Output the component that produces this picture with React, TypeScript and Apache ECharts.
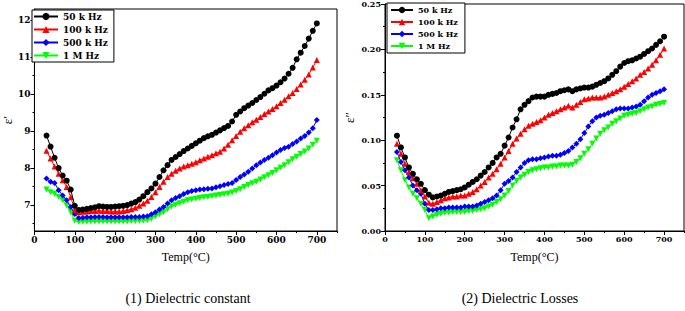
import { useEffect, useRef } from "react";
import * as echarts from "echarts";

const temps = [30, 40, 50, 60, 70, 80, 90, 100, 110, 120, 130, 140, 150, 160, 170, 180, 190, 200, 210, 220, 230, 240, 250, 260, 270, 280, 290, 300, 310, 320, 330, 340, 350, 360, 370, 380, 390, 400, 410, 420, 430, 440, 450, 460, 470, 480, 490, 500, 510, 520, 530, 540, 550, 560, 570, 580, 590, 600, 610, 620, 630, 640, 650, 660, 670, 680, 690, 700];

// Dielectric constant ε'
const epsR50k = [8.88, 8.58, 8.28, 8.0, 7.8, 7.66, 7.42, 6.98, 6.87, 6.88, 6.9, 6.92, 6.94, 6.97, 6.96, 6.95, 6.95, 6.96, 6.97, 6.98, 7.0, 7.04, 7.08, 7.15, 7.24, 7.35, 7.45, 7.58, 7.76, 7.94, 8.08, 8.22, 8.3, 8.38, 8.46, 8.53, 8.6, 8.67, 8.74, 8.81, 8.86, 8.9, 8.96, 9.02, 9.08, 9.14, 9.26, 9.44, 9.53, 9.62, 9.69, 9.76, 9.84, 9.92, 10.01, 10.1, 10.16, 10.23, 10.32, 10.42, 10.55, 10.71, 10.94, 11.12, 11.3, 11.5, 11.71, 11.91];
const epsR100k = [8.47, 8.26, 8.04, 7.85, 7.67, 7.49, 7.22, 6.87, 6.81, 6.82, 6.83, 6.84, 6.84, 6.85, 6.84, 6.84, 6.83, 6.83, 6.83, 6.84, 6.86, 6.89, 6.93, 6.98, 7.04, 7.12, 7.22, 7.35, 7.49, 7.63, 7.76, 7.85, 7.93, 7.99, 8.04, 8.08, 8.12, 8.16, 8.21, 8.26, 8.31, 8.35, 8.4, 8.44, 8.53, 8.63, 8.75, 8.87, 8.98, 9.08, 9.16, 9.24, 9.31, 9.38, 9.46, 9.53, 9.6, 9.67, 9.76, 9.85, 9.94, 10.03, 10.14, 10.26, 10.39, 10.53, 10.72, 10.92];
const epsR500k = [7.72, 7.63, 7.6, 7.4, 7.26, 7.13, 6.95, 6.76, 6.65, 6.66, 6.67, 6.67, 6.68, 6.68, 6.68, 6.67, 6.67, 6.67, 6.67, 6.67, 6.67, 6.68, 6.68, 6.68, 6.69, 6.7, 6.75, 6.81, 6.88, 6.95, 7.04, 7.13, 7.19, 7.24, 7.3, 7.35, 7.38, 7.4, 7.42, 7.43, 7.44, 7.45, 7.48, 7.51, 7.54, 7.57, 7.6, 7.68, 7.76, 7.83, 7.9, 7.99, 8.08, 8.15, 8.22, 8.28, 8.35, 8.42, 8.49, 8.54, 8.58, 8.65, 8.72, 8.8, 8.87, 8.96, 9.08, 9.3];
const epsR1M = [7.42, 7.35, 7.31, 7.22, 7.13, 6.99, 6.81, 6.58, 6.54, 6.55, 6.55, 6.56, 6.56, 6.56, 6.56, 6.56, 6.56, 6.56, 6.56, 6.56, 6.56, 6.57, 6.57, 6.57, 6.58, 6.59, 6.63, 6.69, 6.75, 6.81, 6.89, 6.96, 7.01, 7.05, 7.09, 7.13, 7.15, 7.17, 7.19, 7.21, 7.22, 7.24, 7.26, 7.27, 7.29, 7.31, 7.34, 7.38, 7.43, 7.49, 7.54, 7.59, 7.63, 7.69, 7.75, 7.81, 7.87, 7.94, 8.01, 8.08, 8.16, 8.24, 8.31, 8.38, 8.45, 8.53, 8.63, 8.74];

// Dielectric losses ε''
const epsI50k = [0.105, 0.092, 0.081, 0.07, 0.063, 0.057, 0.052, 0.045, 0.04, 0.037, 0.038, 0.039, 0.041, 0.043, 0.044, 0.045, 0.046, 0.048, 0.051, 0.054, 0.057, 0.061, 0.065, 0.07, 0.075, 0.081, 0.085, 0.094, 0.103, 0.114, 0.123, 0.134, 0.139, 0.143, 0.147, 0.148, 0.148, 0.148, 0.15, 0.151, 0.152, 0.154, 0.155, 0.156, 0.154, 0.156, 0.157, 0.158, 0.158, 0.159, 0.161, 0.163, 0.165, 0.168, 0.172, 0.176, 0.181, 0.185, 0.187, 0.188, 0.19, 0.192, 0.195, 0.198, 0.201, 0.205, 0.209, 0.214];
const epsI100k = [0.096, 0.085, 0.074, 0.065, 0.058, 0.052, 0.045, 0.038, 0.031, 0.03, 0.032, 0.034, 0.036, 0.037, 0.038, 0.038, 0.039, 0.039, 0.041, 0.043, 0.046, 0.05, 0.054, 0.059, 0.063, 0.068, 0.074, 0.081, 0.088, 0.096, 0.102, 0.107, 0.112, 0.116, 0.118, 0.12, 0.122, 0.125, 0.128, 0.13, 0.132, 0.134, 0.136, 0.138, 0.136, 0.139, 0.142, 0.145, 0.146, 0.147, 0.147, 0.147, 0.148, 0.15, 0.152, 0.154, 0.156, 0.159, 0.162, 0.165, 0.168, 0.172, 0.175, 0.179, 0.183, 0.188, 0.194, 0.201];
const epsI500k = [0.087, 0.076, 0.067, 0.059, 0.05, 0.045, 0.041, 0.03, 0.023, 0.023, 0.024, 0.025, 0.025, 0.026, 0.026, 0.026, 0.026, 0.027, 0.027, 0.027, 0.028, 0.03, 0.032, 0.034, 0.036, 0.039, 0.045, 0.052, 0.055, 0.059, 0.065, 0.07, 0.075, 0.078, 0.079, 0.079, 0.08, 0.081, 0.082, 0.083, 0.083, 0.084, 0.086, 0.088, 0.092, 0.096, 0.101, 0.108, 0.115, 0.121, 0.125, 0.127, 0.128, 0.13, 0.132, 0.134, 0.135, 0.135, 0.135, 0.136, 0.137, 0.139, 0.143, 0.147, 0.15, 0.152, 0.154, 0.156];
const epsI1M = [0.078, 0.067, 0.056, 0.048, 0.041, 0.036, 0.03, 0.023, 0.014, 0.016, 0.018, 0.019, 0.02, 0.02, 0.021, 0.021, 0.021, 0.021, 0.022, 0.022, 0.023, 0.024, 0.025, 0.027, 0.029, 0.032, 0.035, 0.039, 0.044, 0.05, 0.055, 0.059, 0.062, 0.065, 0.067, 0.068, 0.069, 0.07, 0.07, 0.071, 0.071, 0.072, 0.072, 0.072, 0.073, 0.076, 0.08, 0.085, 0.09, 0.096, 0.102, 0.107, 0.111, 0.114, 0.118, 0.121, 0.124, 0.127, 0.128, 0.129, 0.13, 0.132, 0.134, 0.136, 0.137, 0.139, 0.14, 0.141];

const seriesNames = ["50 k Hz", "100 k Hz", "500 k Hz", "1 M Hz"];
const seriesColors = ["#000000", "#ff0000", "#0000ff", "#00ff00"];
const seriesSymbols = ["circle", "triangle", "diamond", "triangle"];
const seriesRotations = [0, 0, 0, 180];

const xTicks = [0, 100, 200, 300, 400, 500, 600, 700];
const xMinorTicks = [50, 150, 250, 350, 450, 550, 650, 750];
const yTicksLeft = [7, 8, 9, 10, 11, 12];
const yMinorLeft = [6.5, 7.5, 8.5, 9.5, 10.5, 11.5];
const yTicksRight = [0, 0.05, 0.1, 0.15, 0.2, 0.25];
const yMinorRight = [0.025, 0.075, 0.125, 0.175, 0.225];

const captions = ["(1) Dielectric constant", "(2) Dielectric Losses"];

const SERIF = "'Liberation Serif', 'Times New Roman', serif";
const SLAB = "'DejaVu Serif', serif";

export default function App() {
  const ref = useRef<HTMLDivElement>(null);

  useEffect(() => {
    if (!ref.current) return;
    const chart = echarts.init(ref.current, undefined, { renderer: "svg" });

    const leftSets = [epsR50k, epsR100k, epsR500k, epsR1M];
    const rightSets = [epsI50k, epsI100k, epsI500k, epsI1M];

    const mkSeries = (sets: number[][], xi: number, yi: number) =>
      sets.map((vals, i) => ({
        name: seriesNames[i],
        type: "line",
        xAxisIndex: xi,
        yAxisIndex: yi,
        data: temps.map((t, k) => [t, vals[k]]),
        symbol: seriesSymbols[i],
        symbolRotate: seriesRotations[i],
        symbolSize: 6,
        showSymbol: true,
        lineStyle: { color: seriesColors[i], width: 1 },
        itemStyle: { color: seriesColors[i] },
        z: 10 - i,
      }));

    const mkX = (grid: number, fs: number) => [
      {
        type: "value",
        gridIndex: grid,
        min: 0,
        max: 750,
        position: "bottom",
        axisLine: { show: true, lineStyle: { color: "#000", width: 1 } },
        axisTick: { show: true, customValues: xTicks, length: 4, lineStyle: { color: "#000" } },
        axisLabel: {
          customValues: xTicks,
          color: "#000",
          fontFamily: SLAB,
          fontWeight: "bold",
          fontSize: fs,
          margin: 4,
        },
        splitLine: { show: false },
        name: "Temp(°C)",
        nameLocation: "middle",
        nameGap: 20,
        nameTextStyle: { color: "#000", fontFamily: SERIF, fontSize: 12 },
      },
      {
        type: "value",
        gridIndex: grid,
        min: 0,
        max: 750,
        position: "bottom",
        axisLine: { show: false },
        axisTick: { show: true, customValues: xMinorTicks, length: 2, lineStyle: { color: "#000" } },
        axisLabel: { show: false },
        splitLine: { show: false },
      },
    ];

    const mkY = (
      grid: number,
      min: number,
      max: number,
      ticks: number[],
      minor: number[],
      name: string,
      fmt: (v: number) => string,
      fs: number,
      gap: number
    ) => [
      {
        type: "value",
        gridIndex: grid,
        min,
        max,
        position: "left",
        axisLine: { show: true, lineStyle: { color: "#000", width: 1 } },
        axisTick: { show: true, customValues: ticks, length: 4, lineStyle: { color: "#000" } },
        axisLabel: {
          customValues: ticks,
          formatter: fmt,
          color: "#000",
          fontFamily: SLAB,
          fontWeight: "bold",
          fontSize: fs,
          margin: 4,
        },
        splitLine: { show: false },
        name,
        nameLocation: "middle",
        nameRotate: 90,
        nameGap: gap,
        nameTextStyle: { color: "#000", fontFamily: SERIF, fontSize: 13 },
      },
      {
        type: "value",
        gridIndex: grid,
        min,
        max,
        position: "left",
        axisLine: { show: false },
        axisTick: { show: true, customValues: minor, length: 2, lineStyle: { color: "#000" } },
        axisLabel: { show: false },
        splitLine: { show: false },
      },
    ];

    const mkLegend = (
      left: number,
      top: number,
      fs: number,
      lh: number,
      gap: number,
      iw: number,
      padding: number[]
    ) => ({
      data: seriesNames,
      orient: "vertical",
      left,
      top,
      itemWidth: iw,
      itemHeight: lh,
      itemGap: gap,
      padding,
      borderColor: "#000",
      borderWidth: 1,
      backgroundColor: "#fff",
      selectedMode: false,
      textStyle: { color: "#000", fontFamily: SLAB, fontWeight: "bold", fontSize: fs, lineHeight: lh },
    });

    chart.setOption({
      animation: false,
      backgroundColor: "#ffffff",
      grid: [
        { left: 31, top: 9, width: 306, height: 222, show: true, borderColor: "#000", borderWidth: 1, backgroundColor: "transparent" },
        { left: 385, top: 3, width: 299, height: 228, show: true, borderColor: "#000", borderWidth: 1, backgroundColor: "transparent" },
      ],
      xAxis: [...mkX(0, 9), ...mkX(1, 8)],
      yAxis: [
        ...mkY(0, 6.3, 12.3, yTicksLeft, yMinorLeft, "ε′", (v: number) => String(v), 9, 17),
        ...mkY(1, 0, 0.25, yTicksRight, yMinorRight, "ε″", (v: number) => v.toFixed(2), 8, 29),
      ],
      legend: [
        mkLegend(32, 10, 9, 9, 4, 24, [2, 6, 2, 1]),
        mkLegend(387, 3, 8, 8, 4, 22, [3, 7, 3, 3]),
      ],
      series: [...mkSeries(leftSets, 0, 0), ...mkSeries(rightSets, 2, 2)],
      graphic: [
        {
          type: "text",
          x: 188,
          y: 298,
          style: { text: captions[0], font: `14px ${SERIF}`, fill: "#000", textAlign: "center", textVerticalAlign: "middle" },
        },
        {
          type: "text",
          x: 520,
          y: 298,
          style: { text: captions[1], font: `14px ${SERIF}`, fill: "#000", textAlign: "center", textVerticalAlign: "middle" },
        },
      ],
    });

    return () => chart.dispose();
  }, []);

  return (
    <div
      ref={ref}
      style={{ position: "absolute", left: 0, top: 0, width: 685, height: 311, background: "#fff" }}
    />
  );
}
